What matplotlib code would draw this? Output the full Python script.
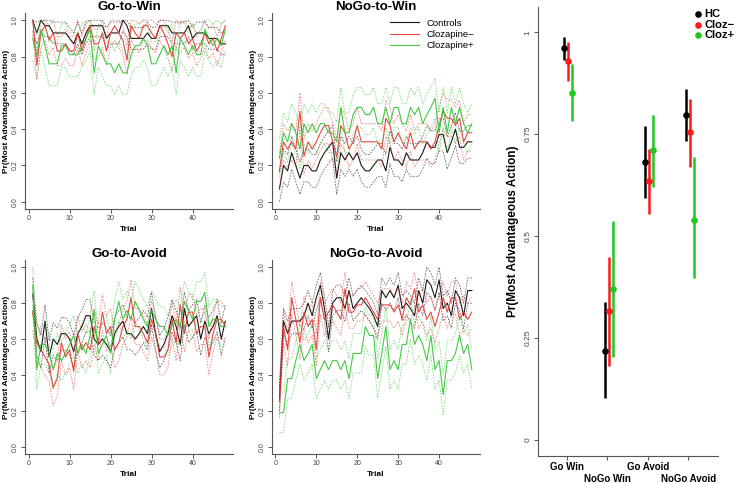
import numpy as np
import matplotlib
matplotlib.use("Agg")
import matplotlib.pyplot as plt

plt.rcParams["font.family"] = ["Liberation Sans", "DejaVu Sans"]

trial = np.arange(1, 49)

# Go-to-Win
gw_hc = [1.0, 0.93, 1.0, 0.97, 0.97, 0.93, 0.93, 0.93, 0.93, 0.9, 0.87, 0.93, 0.87, 0.93, 0.97, 0.97,
         0.97, 0.97, 0.9, 0.93, 0.93, 0.93, 1.0, 0.97, 0.9, 0.9, 0.9, 0.9, 0.93, 0.9, 0.9, 0.97,
         0.97, 0.97, 0.93, 0.93, 0.93, 0.93, 0.97, 0.9, 0.93, 0.93, 0.93, 0.9, 0.9, 0.9, 0.87, 0.87]
gw_cm = [1.0, 0.75, 0.93, 0.97, 0.89, 0.93, 0.83, 0.83, 0.87, 0.83, 0.83, 0.93, 0.83, 0.9, 0.97, 0.87,
         0.87, 0.93, 0.83, 0.93, 0.97, 0.93, 0.89, 0.78, 0.97, 0.93, 0.9, 0.97, 0.97, 0.93, 0.9, 0.97,
         0.93, 0.87, 0.8, 0.93, 0.9, 0.93, 0.87, 0.9, 0.83, 0.87, 0.93, 0.87, 0.9, 0.83, 0.9, 0.97]
gw_cp = [0.9, 0.8, 0.95, 0.86, 0.76, 0.76, 0.76, 0.86, 0.86, 0.81, 0.81, 0.81, 0.86, 0.9, 0.95, 0.71,
         0.86, 0.81, 0.76, 0.76, 0.71, 0.76, 0.71, 0.71, 0.81, 0.86, 0.86, 0.9, 0.86, 0.76, 0.76, 0.81,
         0.86, 0.81, 0.86, 0.71, 0.9, 0.86, 0.81, 0.86, 0.81, 0.81, 0.95, 0.9, 0.86, 0.9, 0.86, 0.95]

# NoGo-to-Win
nw_hc = [0.07, 0.2, 0.17, 0.27, 0.2, 0.13, 0.2, 0.2, 0.17, 0.17, 0.23, 0.27, 0.3, 0.33, 0.13, 0.27,
         0.23, 0.27, 0.23, 0.27, 0.2, 0.17, 0.17, 0.2, 0.23, 0.23, 0.17, 0.3, 0.23, 0.23, 0.2, 0.27,
         0.23, 0.23, 0.23, 0.27, 0.33, 0.3, 0.3, 0.37, 0.37, 0.27, 0.33, 0.4, 0.3, 0.3, 0.33, 0.33]
nw_cm = [0.17, 0.33, 0.29, 0.33, 0.29, 0.5, 0.25, 0.33, 0.29, 0.33, 0.38, 0.42, 0.42, 0.33, 0.25, 0.42,
         0.38, 0.29, 0.33, 0.42, 0.33, 0.33, 0.33, 0.33, 0.33, 0.29, 0.46, 0.42, 0.33, 0.38, 0.33, 0.29,
         0.38, 0.29, 0.33, 0.33, 0.33, 0.29, 0.33, 0.42, 0.5, 0.46, 0.46, 0.42, 0.46, 0.33, 0.38, 0.38]
nw_cp = [0.24, 0.38, 0.33, 0.43, 0.38, 0.29, 0.43, 0.38, 0.43, 0.38, 0.43, 0.43, 0.38, 0.38, 0.33, 0.52,
         0.38, 0.38, 0.48, 0.52, 0.52, 0.48, 0.48, 0.52, 0.43, 0.43, 0.52, 0.43, 0.52, 0.52, 0.43, 0.43,
         0.52, 0.48, 0.52, 0.43, 0.48, 0.52, 0.57, 0.38, 0.52, 0.38, 0.52, 0.43, 0.52, 0.43, 0.38, 0.43]

# Go-to-Avoid
ga_hc = [0.85, 0.6, 0.53, 0.7, 0.5, 0.6, 0.57, 0.63, 0.63, 0.6, 0.53, 0.63, 0.67, 0.73, 0.73, 0.6,
         0.57, 0.6, 0.57, 0.53, 0.63, 0.67, 0.7, 0.63, 0.63, 0.6, 0.63, 0.67, 0.63, 0.77, 0.63, 0.53,
         0.57, 0.63, 0.73, 0.67, 0.57, 0.77, 0.67, 0.7, 0.73, 0.6, 0.7, 0.63, 0.67, 0.73, 0.6, 0.7]
ga_cm = [0.75, 0.58, 0.54, 0.5, 0.46, 0.33, 0.38, 0.58, 0.5, 0.54, 0.42, 0.63, 0.54, 0.58, 0.54, 0.67,
         0.58, 0.75, 0.63, 0.67, 0.54, 0.58, 0.67, 0.71, 0.83, 0.67, 0.67, 0.63, 0.58, 0.71, 0.63, 0.5,
         0.5, 0.54, 0.71, 0.58, 0.79, 0.63, 0.75, 0.75, 0.63, 0.67, 0.67, 0.5, 0.63, 0.71, 0.71, 0.67]
ga_cp = [0.9, 0.43, 0.57, 0.57, 0.52, 0.43, 0.52, 0.48, 0.52, 0.57, 0.62, 0.52, 0.57, 0.52, 0.62, 0.76,
         0.52, 0.57, 0.62, 0.52, 0.71, 0.81, 0.71, 0.76, 0.71, 0.81, 0.76, 0.71, 0.67, 0.76, 0.71, 0.67,
         0.67, 0.62, 0.67, 0.71, 0.67, 0.81, 0.76, 0.71, 0.81, 0.81, 0.86, 0.67, 0.71, 0.71, 0.67, 0.67]

# NoGo-to-Avoid
na_hc = [0.27, 0.7, 0.63, 0.7, 0.7, 0.7, 0.73, 0.8, 0.73, 0.83, 0.9, 0.77, 0.6, 0.8, 0.83, 0.83,
         0.77, 0.87, 0.77, 0.8, 0.83, 0.8, 0.77, 0.73, 0.67, 0.87, 0.83, 0.87, 0.83, 0.9, 0.77, 0.8,
         0.77, 0.73, 0.87, 0.8, 0.93, 0.9, 0.83, 0.93, 0.77, 0.8, 0.73, 0.87, 0.83, 0.73, 0.87, 0.87]
na_cm = [0.25, 0.67, 0.54, 0.83, 0.71, 0.58, 0.75, 0.67, 0.71, 0.54, 0.83, 0.71, 0.75, 0.79, 0.75, 0.71,
         0.88, 0.75, 0.75, 0.79, 0.79, 0.83, 0.79, 0.75, 0.71, 0.79, 0.79, 0.79, 0.75, 0.79, 0.71, 0.83,
         0.79, 0.88, 0.75, 0.79, 0.71, 0.75, 0.67, 0.75, 0.83, 0.75, 0.83, 0.83, 0.71, 0.75, 0.71, 0.75]
na_cp = [0.19, 0.19, 0.38, 0.38, 0.48, 0.57, 0.48, 0.52, 0.57, 0.38, 0.43, 0.48, 0.43, 0.48, 0.48, 0.43,
         0.48, 0.38, 0.52, 0.52, 0.52, 0.67, 0.62, 0.62, 0.38, 0.52, 0.67, 0.43, 0.48, 0.43, 0.57, 0.57,
         0.71, 0.57, 0.62, 0.57, 0.48, 0.62, 0.43, 0.48, 0.29, 0.48, 0.48, 0.52, 0.62, 0.52, 0.57, 0.43]

# dotted band half-widths (HC, Cloz-, Cloz+)
hw_gw = [0.06, 0.08, 0.12]
hw_nw = [0.09, 0.1, 0.11]
hw_ga = [0.09, 0.1, 0.11]
hw_na = [0.07, 0.09, 0.11]

# summary panel
conds = ["Go Win", "NoGo Win", "Go Avoid", "NoGo Avoid"]
hc_mean = [0.961, 0.218, 0.682, 0.798]
hc_lo = [0.932, 0.102, 0.594, 0.732]
hc_hi = [0.988, 0.339, 0.769, 0.860]
cm_mean = [0.930, 0.315, 0.634, 0.755]
cm_lo = [0.881, 0.182, 0.554, 0.669]
cm_hi = [0.977, 0.448, 0.713, 0.835]
cp_mean = [0.852, 0.371, 0.710, 0.540]
cp_lo = [0.781, 0.203, 0.619, 0.397]
cp_hi = [0.922, 0.538, 0.796, 0.695]

black, red, green = "black", "#e8332e", "#2fc42f"
pt_red, pt_green = "#ff1a1a", "#1fc81f"

fig = plt.figure(figsize=(7.4, 4.83), dpi=100)


def style(ax, size=5):
    for s in ["top", "right"]:
        ax.spines[s].set_visible(False)
    for s in ["left", "bottom"]:
        ax.spines[s].set_color("#555555")
        ax.spines[s].set_linewidth(0.8)
    ax.tick_params(colors="#555555", labelcolor="#444444", length=3, width=0.7, labelsize=size, pad=1.5)


def panel(rect, title, series, hws, legend=False):
    ax = fig.add_axes(rect)
    style(ax)
    for y, hw, c in zip(series, hws, [black, red, green]):
        y = np.array(y)
        ax.plot(trial, y, color=c, lw=0.8, alpha=0.9)
        ax.plot(trial, np.clip(y + hw, 0, 1), color=c, lw=0.6, alpha=0.6, ls=(0, (2, 1.5)))
        ax.plot(trial, np.clip(y - hw, 0, 1), color=c, lw=0.6, alpha=0.6, ls=(0, (2, 1.5)))
    ax.set_xlim(-0.88, 49.88)
    ax.set_ylim(-0.04, 1.04)
    ax.set_xticks([0, 10, 20, 30, 40])
    ax.set_yticks([0, 0.2, 0.4, 0.6, 0.8, 1.0])
    ax.set_yticklabels(["0.0", "0.2", "0.4", "0.6", "0.8", "1.0"], rotation=90, va="center")
    ax.set_xlabel("Trial", fontsize=6, fontweight="bold", labelpad=3)
    ax.set_ylabel("Pr(Most Advantageous Action)", fontsize=6, fontweight="bold")
    ax.yaxis.set_label_coords(-0.072, 0.5)
    ax.set_title(title, fontsize=9.5, fontweight="bold", pad=1)
    if legend:
        ax.legend(handles=[ax.lines[0], ax.lines[3], ax.lines[6]],
                  labels=["Controls", "Clozapine\u2212", "Clozapine+"],
                  loc="upper right", frameon=False, fontsize=6.8, handlelength=3.0,
                  borderaxespad=0.2, labelspacing=0.25)
    return ax


panel([0.0338, 0.5673, 0.2811, 0.4058], "Go-to-Win", [gw_hc, gw_cm, gw_cp], hw_gw)
panel([0.3672, 0.5673, 0.2808, 0.4058], "NoGo-to-Win", [nw_hc, nw_cm, nw_cp], hw_nw, legend=True)
panel([0.0338, 0.0600, 0.2811, 0.4017], "Go-to-Avoid", [ga_hc, ga_cm, ga_cp], hw_ga)
panel([0.3672, 0.0600, 0.2808, 0.4017], "NoGo-to-Avoid", [na_hc, na_cm, na_cp], hw_na)

# summary point-range panel
ax = fig.add_axes([0.7266, 0.0559, 0.2436, 0.9296])
style(ax, size=6)
x = np.arange(1, 5)
offs = [-0.06, 0.04, 0.14]
groups = [(hc_mean, hc_lo, hc_hi, black, "HC"),
          (cm_mean, cm_lo, cm_hi, pt_red, "Cloz\u2212"),
          (cp_mean, cp_lo, cp_hi, pt_green, "Cloz+")]
handles = []
for (m, lo, hi, c, lab), o in zip(groups, offs):
    ax.vlines(x + o, lo, hi, color=c, lw=1.8)
    h = ax.scatter(x + o, m, color=c, s=14, zorder=3, label=lab)
    handles.append(h)
ax.set_xlim(0.29, 4.73)
ax.set_ylim(-0.04, 1.062)
ax.set_yticks([0, 0.25, 0.5, 0.75, 1])
ax.set_yticklabels(["0", "0.25", "0.5", "0.75", "1"], rotation=90, va="center")
ax.set_xticks(x)
ax.set_xticklabels(conds, fontsize=7, fontweight="bold", color="black")
for i, t in enumerate(ax.xaxis.get_major_ticks()):
    if i % 2 == 1:
        t.set_pad(10)
ax.set_ylabel("Pr(Most Advantageous Action)", fontsize=8.5, fontweight="bold", labelpad=4)
ax.legend(handles=handles, loc="upper left", bbox_to_anchor=(0.84, 1.005), frameon=False,
          prop={"size": 8, "weight": "bold"}, handletextpad=0.2, labelspacing=0.05,
          borderaxespad=0, handlelength=0.8)

fig.savefig("out.png", dpi=100)
